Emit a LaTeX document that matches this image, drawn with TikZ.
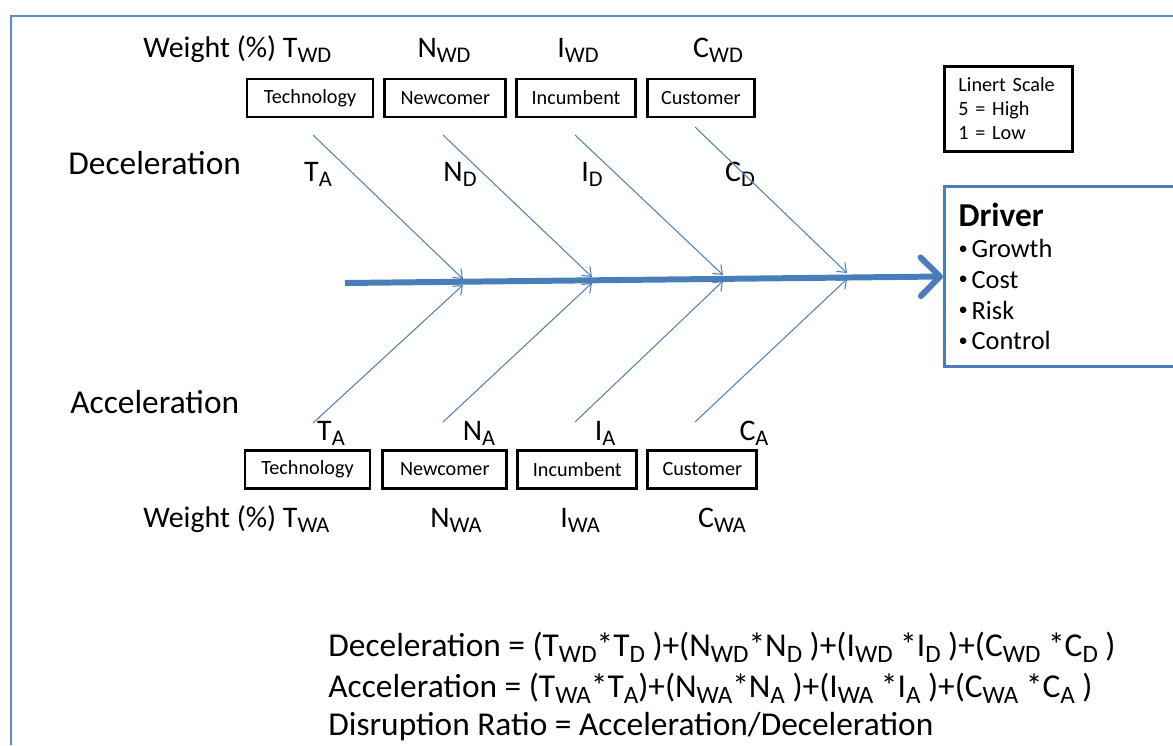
\documentclass[tikz,border=0pt]{standalone}
\usepackage{fontspec}
\setmainfont{Carlito}
\usetikzlibrary{arrows.meta,positioning}
\definecolor{spineblue}{HTML}{4A7EBB}
\definecolor{lineblue}{HTML}{4F81BD}
\definecolor{frameblue}{HTML}{5B8BD0}
\newcommand\subtx[1]{\raisebox{-0.4ex}{\scalebox{0.75}{#1}}}
\newcommand\dbul{\raisebox{0.12em}{\scalebox{0.7}{\textbullet}}\hspace{0.15em}}

\begin{document}
\begin{tikzpicture}[x=0.02cm, y=-0.02cm,
	box/.style = {draw, line width=1.6pt, minimum height=0.76cm, inner sep=0pt, font=\fontsize{11.5}{13}\selectfont},
	lab/.style = {inner sep=0pt, font=\fontsize{17}{20}\selectfont},
	big/.style = {inner sep=0pt, font=\fontsize{19}{23}\selectfont},
	bone/.style = {lineblue, line width=0.6pt, -{Straight Barb[length=4.5pt,width=7pt]}},
	spine/.style = {spineblue, line width=3.4pt, -{Straight Barb[length=11pt,width=22pt,round]}}]
	\useasboundingbox (0,0) rectangle (1173,745);
	\clip (0,0) rectangle (1173,745);
	\draw[frameblue, line width=1.1pt] (11,745) -- (11,16) -- (1173,16);

	\node[lab, anchor=base west] (wd) at (143,57) {Weight (\%) T\subtx{WD}};
	\node[lab, anchor=base] (nwd) at (444,57) {N\subtx{WD}};
	\node[lab, anchor=base] (iwd) at (578,57) {I\subtx{WD}};
	\node[lab, anchor=base] (cwd) at (718,57) {C\subtx{WD}};

	\node[box, minimum width=2.52cm] (t1) at (310,98) {Technology};
	\node[box, minimum width=2.42cm] (n1) [right=0.18cm of t1] {Newcomer};
	\node[box, minimum width=2.38cm] (i1) [right=0.16cm of n1] {Incumbent};
	\node[box, minimum width=2.14cm] (c1) [right=0.18cm of i1] {Customer};

	\node[big, anchor=base west] (dec) at (68,174) {Deceleration};
	\node[lab, anchor=base] (ta1) at (318,181) {T\subtx{A}};
	\node[lab, anchor=base] (nd) at (460,181) {N\subtx{D}};
	\node[lab, anchor=base] (id) at (592,181) {I\subtx{D}};
	\node[lab, anchor=base] (cd) at (740,181) {C\subtx{D}};

	\node[draw, line width=1.6pt, anchor=north west, text width=2.0cm, inner xsep=0.28cm,
		minimum height=1.7cm, align=left, font=\fontsize{11.5}{13.6}\selectfont] (lk) at (943,65)
		{Linert Scale\\5 = High\\1 = Low};
	\node[draw=spineblue, line width=1.7pt, anchor=north west, text width=4.8cm, inner xsep=0.28cm,
		minimum height=3.6cm, align=left, font=\fontsize{15}{17.6}\selectfont] (drv) at (943,185)
		{{\fontsize{19}{20}\selectfont\bfseries Driver}\\
		\dbul Growth\\ \dbul Cost\\ \dbul Risk\\ \dbul Control};

	\coordinate (s0) at (345,283);
	\coordinate (u1) at (313,135);
	\coordinate (u2) at (443,135);
	\coordinate (u3) at (575,135);
	\coordinate (u4) at (695,127);
	\coordinate (p1) at (463,279);
	\coordinate (p2) at (592,277);
	\coordinate (p3) at (723,275);
	\coordinate (p4) at (847,273);
	\coordinate (l1) at (313,423);
	\coordinate (l2) at (443,422);
	\coordinate (l3) at (575,422);
	\coordinate (l4) at (695,422);
	\coordinate (q1) at (463,285);
	\coordinate (q2) at (592,283);
	\coordinate (q3) at (723,281);
	\coordinate (q4) at (847,279);

	\draw[spine] (s0) -- (drv.west);
	\draw[bone] (u1) -- (p1);
	\draw[bone] (u2) -- (p2);
	\draw[bone] (u3) -- (p3);
	\draw[bone] (u4) -- (p4);
	\draw[bone] (l1) -- (q1);
	\draw[bone] (l2) -- (q2);
	\draw[bone] (l3) -- (q3);
	\draw[bone] (l4) -- (q4);

	\node[big, anchor=base west] (acc) at (70,413) {Acceleration};
	\node[lab, anchor=base] (ta2) at (331,440) {T\subtx{A}};
	\node[lab, anchor=base] (na) at (479,440) {N\subtx{A}};
	\node[lab, anchor=base] (ia) at (605,440) {I\subtx{A}};
	\node[lab, anchor=base] (ca) at (754,440) {C\subtx{A}};

	\node[box, minimum width=2.5cm] (t2) at (307.5,469.5) {Technology};
	\node[box, minimum width=2.48cm] (n2) [right=0.2cm of t2] {Newcomer};
	\node[box, minimum width=2.38cm] (i2) [right=0.165cm of n2] {Incumbent};
	\node[box, minimum width=2.18cm] (c2) [right=0.165cm of i2] {Customer};

	\node[lab, anchor=base west] (wa) at (143,527) {Weight (\%) T\subtx{WA}};
	\node[lab, anchor=base] (nwa) at (456,527) {N\subtx{WA}};
	\node[lab, anchor=base] (iwa) at (580,527) {I\subtx{WA}};
	\node[lab, anchor=base] (cwa) at (722,527) {C\subtx{WA}};

	\node[big, anchor=base west] (f1) at (328,656) {Deceleration = (T\subtx{WD}*T\subtx{D} )+(N\subtx{WD}*N\subtx{D} )+(I\subtx{WD} *I\subtx{D} )+(C\subtx{WD} *C\subtx{D} )};
	\node[big, anchor=base west] (f2) at (328,697) {Acceleration = (T\subtx{WA}*T\subtx{A})+(N\subtx{WA}*N\subtx{A} )+(I\subtx{WA} *I\subtx{A} )+(C\subtx{WA} *C\subtx{A} )};
	\node[big, anchor=base west] (f3) at (328,735) {Disruption Ratio = Acceleration/Deceleration};
\end{tikzpicture}
\end{document}
